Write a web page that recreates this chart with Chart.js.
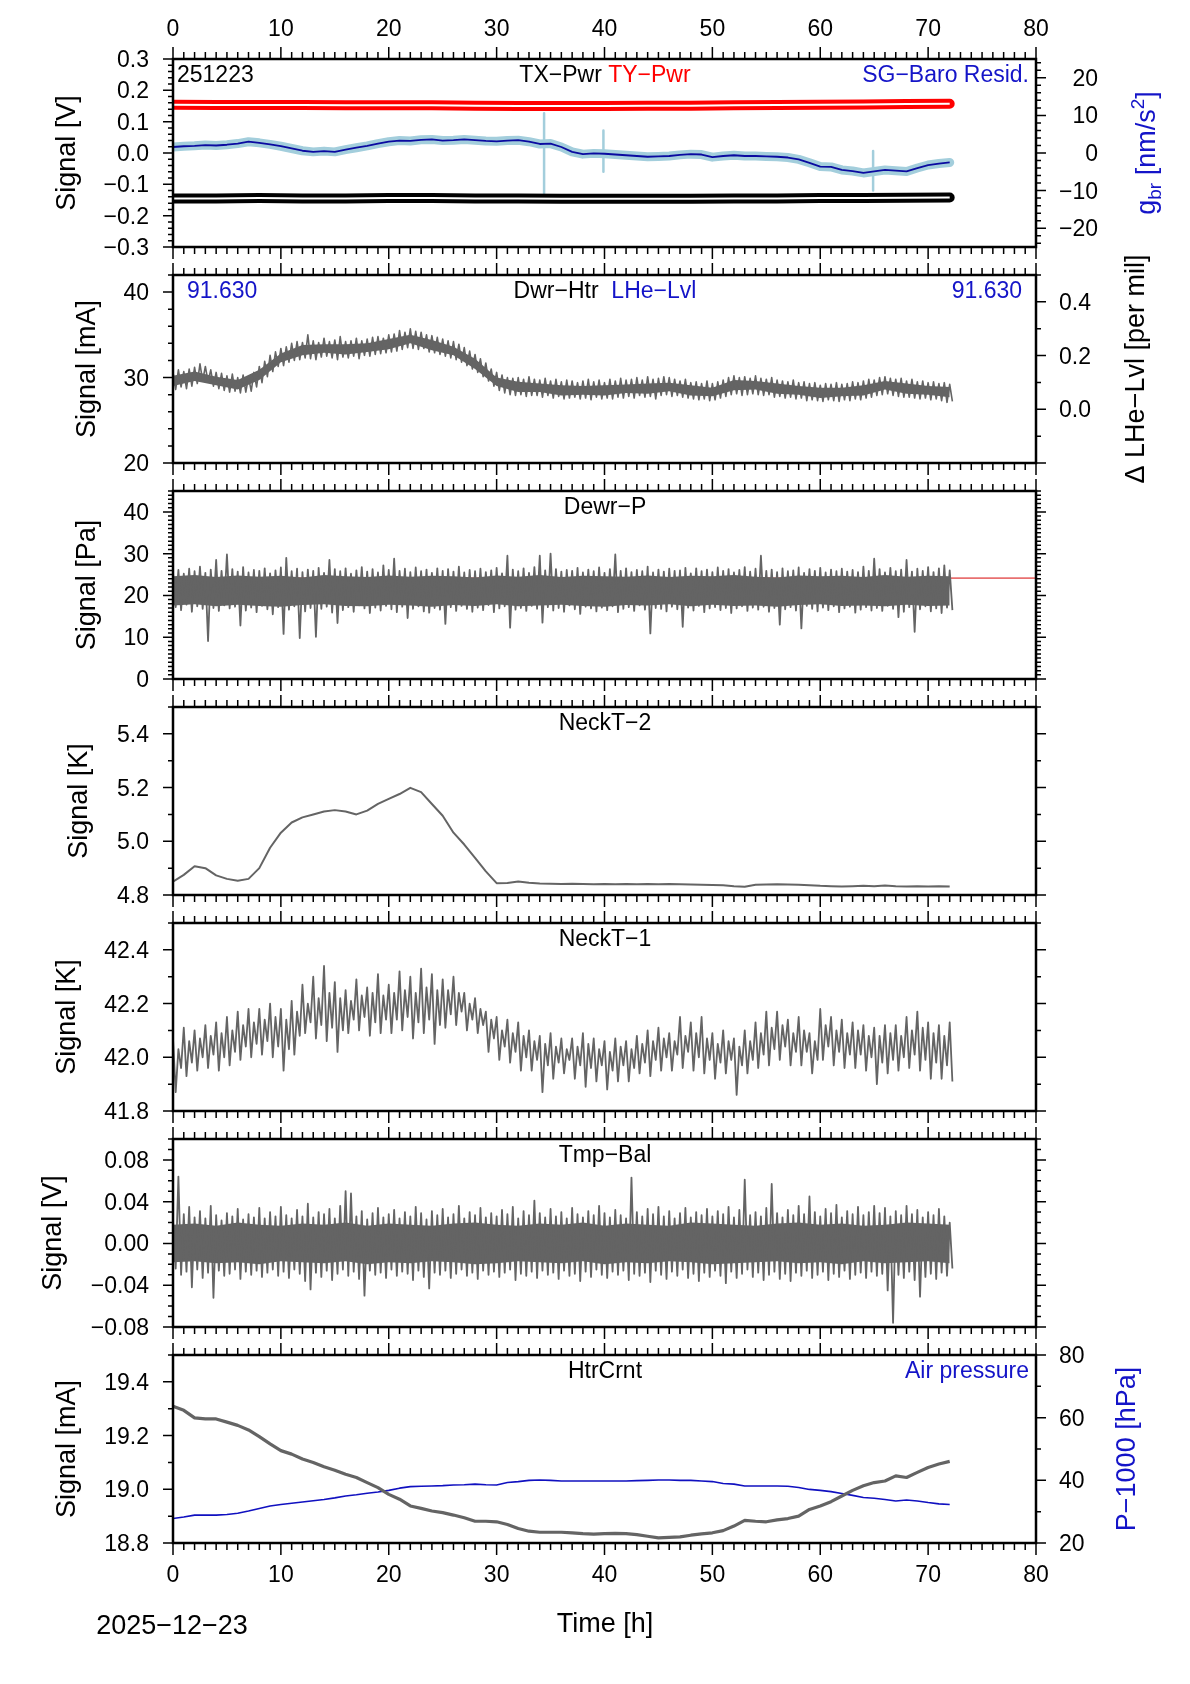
<!DOCTYPE html>
<html>
<head>
<meta charset="utf-8">
<script src="https://cdn.jsdelivr.net/npm/chart.js@4.4.1/dist/chart.umd.min.js"></script>
<style>
  html, body { margin: 0; padding: 0; background: #fff; }
  #wrap { position: relative; width: 1190px; height: 1684px; overflow: hidden; background: #fff; }
  #wrap canvas { position: absolute; left: 0; }
</style>
</head>
<body>
<div id="wrap"></div>
<script>
// ==========================================
// SG station daily housekeeping plot (GMT style) rebuilt with Chart.js
// ==========================================

// ---- time axis ----
const X_MIN = 0, X_MAX = 80;
const HALF_STEP = 0.5;     // step of the hi/lo noise arrays [h]
const HOUR_STEP = 1;
const TWO_STEP = 2;        // step of the dense-core arrays [h]
const FOUR_STEP = 4;

// ---- panel 1: TX/TY power [V], SG-Baro residual [nm/s^2] ----
const txPwr = [-0.145, -0.145, -0.144, -0.145, -0.145, -0.144, -0.144, -0.145, -0.145, -0.146,
               -0.146, -0.146, -0.146, -0.145, -0.145, -0.144, -0.144, -0.143, -0.142];
const tyPwr = [0.154, 0.153, 0.153, 0.153, 0.152, 0.152, 0.152, 0.151, 0.150, 0.150,
               0.150, 0.151, 0.151, 0.152, 0.153, 0.154, 0.155, 0.156, 0.157];
const sgResid = [1.6, 1.8, 1.9, 2.1, 2.0, 2.2, 2.5, 3.0, 2.7, 2.3,
                 1.8, 1.2, 0.6, 0.3, 0.5, 0.3, 0.9, 1.4, 1.9, 2.5,
                 3.0, 3.3, 3.2, 3.5, 3.6, 3.3, 3.4, 3.6, 3.4, 3.2,
                 3.1, 3.3, 3.4, 3.0, 2.4, 2.5, 1.6, 0.3, -0.3, -0.1,
                 -0.2, -0.4, -0.6, -0.8, -1.0, -0.9, -0.8, -0.5, -0.3, -0.4,
                 -1.1, -0.8, -0.6, -0.8, -0.8, -0.9, -1.0, -1.2, -1.7, -2.6,
                 -3.6, -3.7, -4.5, -4.8, -5.3, -4.9, -4.5, -4.7, -4.9, -4.0,
                 -3.2, -2.8, -2.5];
const sgSpikeHours = [34.4, 39.9, 64.9];
const sgSpikeTop = [10.6, 6.0, 0.5];
const sgSpikeBottom = [-10.8, -5.0, -10.0];

// ---- panel 2: Dewar heater [mA] ----
const dwrHtrHi = [30.6, 30.9, 30.7, 31.0, 31.2, 31.6, 31.3, 30.9, 30.6, 30.5,
                  30.2, 30.4, 30.0, 30.3, 30.1, 30.6, 31.3, 31.9, 32.6, 33.0,
                  33.4, 33.6, 34.0, 34.2, 34.1, 35.0, 34.3, 34.1, 34.6, 34.2,
                  34.4, 34.8, 34.2, 34.3, 34.6, 34.3, 34.5, 34.7, 34.8, 34.6,
                  35.0, 35.1, 35.5, 35.3, 35.7, 35.4, 35.3, 35.0, 34.9, 34.7,
                  34.5, 34.3, 34.2, 33.9, 33.5, 33.1, 32.7, 32.2, 31.7, 31.0,
                  30.6, 30.3, 30.0, 29.9, 30.0, 29.8, 30.1, 29.8, 29.7, 29.9,
                  29.6, 29.8, 29.5, 29.7, 29.6, 29.4, 29.6, 29.8, 29.5, 29.7,
                  29.4, 29.8, 29.6, 29.9, 29.7, 29.8, 30.0, 29.7, 30.1, 29.8,
                  29.9, 30.1, 30.0, 29.8, 29.6, 29.8, 29.4, 29.5, 29.3, 29.6,
                  29.3, 29.5, 29.7, 30.0, 30.2, 30.0, 30.1, 29.9, 30.2, 29.9,
                  29.8, 30.0, 29.7, 29.6, 29.5, 29.7, 29.4, 29.5, 29.3, 29.4,
                  29.1, 29.3, 29.2, 29.4, 29.2, 29.3, 29.5, 29.4, 29.6, 29.8,
                  29.7, 30.0, 30.1, 29.9, 29.8, 29.9, 29.6, 29.8, 29.5, 29.6,
                  29.4, 29.5, 29.3, 29.4, 29.2];
const dwrHtrLo = [28.6, 28.9, 28.7, 29.0, 29.3, 29.6, 29.5, 29.0, 28.7, 28.5,
                  28.3, 28.4, 28.2, 28.3, 28.4, 28.9, 29.4, 30.1, 30.7, 31.3,
                  31.4, 31.8, 32.0, 32.1, 32.3, 32.2, 32.1, 32.4, 32.5, 32.3,
                  32.1, 32.4, 32.3, 32.5, 32.2, 32.6, 32.5, 32.7, 32.8, 32.9,
                  33.0, 33.1, 33.3, 33.5, 33.4, 33.3, 33.4, 33.0, 32.9, 32.7,
                  32.5, 32.3, 32.1, 31.8, 31.4, 31.0, 30.6, 30.1, 29.6, 29.0,
                  28.5, 28.2, 28.0, 27.9, 28.0, 27.8, 27.9, 27.9, 27.7, 27.9,
                  27.6, 27.8, 27.5, 27.6, 27.7, 27.5, 27.6, 27.4, 27.7, 27.5,
                  27.6, 27.5, 27.7, 27.6, 27.8, 27.6, 27.9, 27.7, 27.8, 27.5,
                  27.9, 28.0, 27.8, 27.9, 27.7, 27.6, 27.5, 27.4, 27.5, 27.3,
                  27.4, 27.6, 27.8, 28.0, 28.1, 27.9, 28.0, 28.1, 28.0, 27.9,
                  28.0, 27.7, 27.8, 27.6, 27.7, 27.5, 27.6, 27.3, 27.4, 27.3,
                  27.2, 27.4, 27.3, 27.2, 27.4, 27.3, 27.5, 27.4, 27.6, 27.7,
                  27.9, 28.0, 28.1, 27.9, 27.8, 27.7, 27.7, 27.6, 27.5, 27.6,
                  27.4, 27.5, 27.3, 27.1, 27.2];
// dense inner part of the record (every 2 h)
const dwrHtrCoreHi = [30.2, 30.7, 30.1, 29.7, 30.9, 32.8, 33.8, 33.9, 33.9, 34.0,
                      34.5, 35.0, 34.4, 33.6, 32.2, 30.0, 29.5, 29.3, 29.1, 29.0,
                      29.1, 29.2, 29.3, 29.4, 29.1, 28.8, 29.7, 29.6, 29.3, 29.0,
                      28.8, 28.8, 29.1, 29.6, 29.3, 29.0, 28.9];
const dwrHtrCoreLo = [29.0, 29.6, 29.1, 28.6, 29.7, 31.8, 32.6, 32.9, 32.7, 33.0,
                      33.3, 34.0, 33.2, 32.6, 31.0, 29.0, 28.3, 28.3, 27.9, 28.0,
                      27.9, 28.2, 28.1, 28.4, 27.9, 27.8, 28.5, 28.6, 28.1, 28.0,
                      27.6, 27.8, 27.9, 28.6, 28.1, 28.0, 27.7];

// ---- panel 3: Dewar pressure [Pa] ----
const dewrPHi = [25.5, 26.1, 25.2, 26.4, 25.8, 26.9, 25.4, 26.2, 28.5, 25.9,
                 29.8, 26.3, 25.7, 26.8, 25.5, 26.1, 25.9, 26.5, 25.3, 26.0,
                 26.7, 29.0, 25.8, 26.4, 25.6, 26.2, 25.9, 26.6, 25.4, 28.5,
                 26.3, 25.8, 26.5, 25.2, 26.0, 26.8, 25.7, 26.3, 25.5, 27.2,
                 26.1, 28.8, 25.9, 26.4, 25.6, 26.7, 25.8, 26.2, 25.4, 26.5,
                 25.9, 26.3, 25.7, 26.9, 25.5, 26.1, 25.8, 26.4, 25.6, 26.0,
                 26.6, 25.3, 29.5, 26.2, 25.8, 26.5, 25.4, 26.8, 29.5, 26.0,
                 30.0, 26.3, 25.7, 26.1, 25.9, 26.6, 25.5, 26.2, 25.8, 26.7,
                 25.4, 26.3, 29.8, 25.9, 26.5, 25.6, 26.1, 25.8, 26.9, 25.5,
                 26.2, 25.7, 26.4, 25.9, 26.0, 26.6, 25.3, 26.5, 25.8, 26.2,
                 25.6, 26.7, 25.9, 26.3, 25.5, 26.1, 26.8, 25.7, 26.4, 29.5,
                 25.9, 26.2, 25.6, 26.5, 25.8, 26.0, 26.7, 25.4, 26.3, 25.9,
                 26.6, 25.5, 26.2, 25.8, 26.4, 25.7, 26.1, 25.6, 26.9, 25.9,
                 28.8, 26.3, 25.5, 26.6, 25.8, 26.2, 28.5, 25.7, 26.4, 25.9,
                 26.8, 25.6, 26.5, 27.2, 26.0];
const dewrPLo = [17.2, 16.5, 17.8, 16.1, 17.4, 16.8, 9.1, 17.0, 16.3, 17.6,
                 16.9, 17.3, 12.8, 16.4, 17.1, 16.0, 17.5, 16.7, 15.5, 17.2,
                 10.8, 16.6, 17.4, 9.8, 16.2, 17.0, 10.1, 16.8, 17.3, 15.9,
                 13.4, 16.5, 17.2, 16.1, 17.6, 16.9, 15.8, 17.1, 16.4, 17.5,
                 16.7, 16.0, 17.3, 14.6, 16.8, 17.4, 16.2, 15.9, 17.0, 16.6,
                 13.2, 17.2, 16.3, 17.5, 16.8, 16.1, 17.1, 16.5, 17.7, 16.0,
                 16.9, 17.4, 12.3, 16.6, 17.0, 16.3, 17.5, 16.8, 13.5, 17.2,
                 16.4, 17.0, 16.1, 17.6, 16.7, 15.6, 17.3, 16.9, 16.2, 17.1,
                 16.5, 17.4, 16.0, 16.8, 17.2, 16.3, 17.6, 16.6, 10.9, 17.0,
                 16.8, 16.2, 17.3, 16.7, 12.5, 17.1, 16.4, 17.5, 16.0, 16.9,
                 17.2, 16.5, 17.0, 15.8, 16.9, 17.4, 16.3, 17.1, 16.6, 17.3,
                 16.1, 17.0, 13.0, 16.7, 17.2, 16.4, 12.1, 17.5, 16.8, 16.2,
                 17.1, 16.5, 17.4, 16.0, 16.9, 17.3, 15.9, 16.6, 17.2, 16.4,
                 17.0, 16.3, 17.5, 16.8, 14.8, 16.1, 17.2, 11.3, 16.7, 17.4,
                 16.2, 16.9, 15.8, 17.1, 16.5];
// dense inner part of the record (every 2 h)
const dewrPCoreHi = [24.6, 24.9, 24.4, 24.8, 24.5, 24.7, 24.3, 24.9, 24.6, 24.4,
                     24.8, 24.5, 24.7, 24.6, 24.3, 24.8, 24.5, 24.9, 24.4, 24.7,
                     24.6, 24.5, 24.8, 24.4, 24.7, 24.6, 24.9, 24.5, 24.3, 24.8,
                     24.6, 24.7, 24.4, 24.9, 24.5, 24.7, 24.6];
const dewrPCoreLo = [17.6, 17.9, 17.4, 17.8, 17.5, 17.3, 17.7, 17.9, 17.5, 17.4,
                     17.8, 17.6, 17.3, 17.7, 17.5, 17.9, 17.4, 17.6, 17.8, 17.5,
                     17.3, 17.7, 17.6, 17.9, 17.4, 17.8, 17.5, 17.6, 17.3, 17.7,
                     17.9, 17.5, 17.6, 17.4, 17.8, 17.5, 17.6];
const dewrPLimit = 24.15;

// ---- panel 4: neck temperature 2 [K] ----
const neckT2 = [4.850, 4.875, 4.907, 4.900, 4.873, 4.860, 4.853, 4.860, 4.900, 4.976,
                5.032, 5.070, 5.089, 5.100, 5.111, 5.116, 5.111, 5.100, 5.114, 5.139,
                5.158, 5.176, 5.199, 5.183, 5.139, 5.095, 5.032, 4.988, 4.938, 4.888,
                4.844, 4.845, 4.850, 4.846, 4.843, 4.842, 4.841, 4.842, 4.841, 4.840,
                4.841, 4.840, 4.841, 4.840, 4.841, 4.840, 4.841, 4.840, 4.839, 4.838,
                4.837, 4.836, 4.833, 4.831, 4.838, 4.839, 4.840, 4.839, 4.838, 4.836,
                4.834, 4.833, 4.832, 4.833, 4.834, 4.833, 4.835, 4.833, 4.832, 4.833,
                4.832, 4.833, 4.832];

// ---- panel 5: neck temperature 1 [K] ----
const neckT1Hi = [42.07, 42.03, 42.11, 42.06, 42.10, 42.07, 42.12, 42.08, 42.13, 42.09,
                  42.15, 42.10, 42.17, 42.12, 42.18, 42.13, 42.18, 42.14, 42.20, 42.15,
                  42.18, 42.14, 42.21, 42.17, 42.27, 42.20, 42.30, 42.22, 42.34, 42.24,
                  42.28, 42.22, 42.25, 42.21, 42.29, 42.23, 42.26, 42.24, 42.31, 42.23,
                  42.27, 42.24, 42.32, 42.25, 42.30, 42.24, 42.33, 42.26, 42.31, 42.25,
                  42.29, 42.25, 42.30, 42.24, 42.24, 42.20, 42.22, 42.18, 42.17, 42.14,
                  42.15, 42.10, 42.14, 42.09, 42.13, 42.08, 42.10, 42.06, 42.08, 42.05,
                  42.09, 42.04, 42.07, 42.03, 42.07, 42.04, 42.09, 42.05, 42.07, 42.03,
                  42.06, 42.02, 42.07, 42.04, 42.06, 42.03, 42.08, 42.05, 42.10, 42.06,
                  42.11, 42.07, 42.09, 42.06, 42.15, 42.08, 42.13, 42.09, 42.15, 42.07,
                  42.09, 42.05, 42.10, 42.06, 42.07, 42.04, 42.10, 42.06, 42.13, 42.09,
                  42.17, 42.11, 42.17, 42.12, 42.14, 42.09, 42.15, 42.10, 42.09, 42.06,
                  42.18, 42.12, 42.15, 42.10, 42.14, 42.09, 42.13, 42.10, 42.12, 42.08,
                  42.11, 42.08, 42.12, 42.09, 42.12, 42.08, 42.15, 42.10, 42.17, 42.11,
                  42.13, 42.09, 42.12, 42.08, 42.13];
const neckT1Lo = [41.87, 41.96, 41.93, 41.98, 41.95, 42.00, 41.96, 42.01, 41.95, 42.00,
                  41.97, 42.02, 41.99, 42.04, 42.00, 42.05, 42.01, 42.06, 42.00, 42.04,
                  41.95, 42.03, 42.01, 42.08, 42.09, 42.13, 42.07, 42.12, 42.06, 42.11,
                  42.02, 42.10, 42.09, 42.14, 42.10, 42.15, 42.08, 42.13, 42.09, 42.14,
                  42.09, 42.14, 42.10, 42.15, 42.07, 42.13, 42.09, 42.14, 42.05, 42.12,
                  42.11, 42.16, 42.12, 42.17, 42.10, 42.14, 42.09, 42.12, 42.02, 42.07,
                  41.99, 42.04, 41.98, 42.02, 41.95, 42.00, 41.95, 41.99, 41.87, 41.97,
                  41.92, 41.98, 41.94, 41.99, 41.92, 41.97, 41.89, 41.96, 41.91, 41.97,
                  41.88, 41.95, 41.91, 41.97, 41.91, 41.96, 41.94, 41.98, 41.93, 41.99,
                  41.95, 42.00, 41.95, 42.01, 41.96, 42.02, 41.95, 42.00, 41.94, 41.99,
                  41.92, 41.98, 41.94, 41.99, 41.86, 41.97, 41.94, 41.99, 41.96, 42.01,
                  41.97, 42.03, 41.99, 42.04, 41.97, 42.02, 41.97, 42.02, 41.94, 41.99,
                  41.99, 42.04, 41.97, 42.02, 41.96, 42.01, 41.96, 42.01, 41.95, 42.00,
                  41.90, 41.98, 41.94, 41.99, 41.95, 42.00, 41.96, 42.01, 41.95, 41.99,
                  41.92, 41.98, 41.92, 41.97, 41.91];

// ---- panel 6: temperature balance [V] ----
const tmpBalHi = [0.022, 0.064, 0.028, 0.035, 0.025, 0.031, 0.024, 0.036, 0.027, 0.022,
                  0.029, 0.026, 0.033, 0.023, 0.028, 0.025, 0.034, 0.024, 0.030, 0.026,
                  0.035, 0.027, 0.024, 0.032, 0.026, 0.038, 0.025, 0.030, 0.028, 0.033,
                  0.024, 0.036, 0.050, 0.048, 0.026, 0.031, 0.023, 0.029, 0.034, 0.025,
                  0.028, 0.032, 0.024, 0.030, 0.026, 0.035, 0.029, 0.023, 0.031, 0.027,
                  0.033, 0.025, 0.028, 0.036, 0.024, 0.030, 0.027, 0.034, 0.025, 0.029,
                  0.026, 0.032, 0.028, 0.035, 0.024, 0.031, 0.027, 0.041, 0.029, 0.025,
                  0.033, 0.026, 0.030, 0.024, 0.034, 0.028, 0.025, 0.031, 0.027, 0.036,
                  0.029, 0.025, 0.032, 0.027, 0.024, 0.063, 0.030, 0.026, 0.033, 0.028,
                  0.035, 0.026, 0.031, 0.024, 0.029, 0.034, 0.025, 0.030, 0.027, 0.033,
                  0.026, 0.031, 0.028, 0.035, 0.025, 0.032, 0.061, 0.027, 0.030, 0.026,
                  0.034, 0.057, 0.029, 0.025, 0.032, 0.027, 0.036, 0.028, 0.045, 0.030,
                  0.026, 0.033, 0.029, 0.037, 0.025, 0.031, 0.028, 0.035, 0.027, 0.030,
                  0.036, 0.029, 0.034, 0.026, 0.031, 0.027, 0.036, 0.028, 0.032, 0.025,
                  0.030, 0.027, 0.033, 0.026, 0.020];
const tmpBalLo = [-0.024, -0.030, -0.027, -0.042, -0.025, -0.033, -0.028, -0.052, -0.026, -0.031,
                  -0.029, -0.025, -0.034, -0.027, -0.030, -0.026, -0.032, -0.028, -0.025, -0.031,
                  -0.027, -0.033, -0.025, -0.029, -0.036, -0.044, -0.028, -0.032, -0.026, -0.035,
                  -0.029, -0.025, -0.031, -0.027, -0.034, -0.050, -0.026, -0.030, -0.028, -0.033,
                  -0.025, -0.031, -0.027, -0.029, -0.035, -0.026, -0.032, -0.043, -0.028, -0.030,
                  -0.026, -0.033, -0.029, -0.025, -0.031, -0.028, -0.034, -0.026, -0.030, -0.027,
                  -0.032, -0.028, -0.025, -0.035, -0.029, -0.031, -0.027, -0.033, -0.026, -0.030,
                  -0.028, -0.034, -0.026, -0.031, -0.029, -0.036, -0.027, -0.032, -0.025, -0.030,
                  -0.033, -0.027, -0.030, -0.026, -0.035, -0.029, -0.031, -0.028, -0.037, -0.026,
                  -0.030, -0.034, -0.027, -0.031, -0.025, -0.033, -0.029, -0.036, -0.028, -0.032,
                  -0.026, -0.031, -0.038, -0.027, -0.033, -0.029, -0.025, -0.032, -0.028, -0.035,
                  -0.030, -0.027, -0.034, -0.029, -0.036, -0.028, -0.031, -0.026, -0.033, -0.030,
                  -0.027, -0.035, -0.029, -0.032, -0.026, -0.034, -0.030, -0.028, -0.033, -0.027,
                  -0.031, -0.029, -0.045, -0.076, -0.030, -0.033, -0.027, -0.035, -0.051, -0.032,
                  -0.029, -0.034, -0.028, -0.031, -0.024];
// dense inner part of the record (every 2 h)
const tmpBalCoreHi = [0.018, 0.019, 0.017, 0.020, 0.018, 0.017, 0.019, 0.018, 0.020, 0.017,
                      0.019, 0.018, 0.017, 0.019, 0.020, 0.018, 0.017, 0.019, 0.018, 0.020,
                      0.017, 0.019, 0.018, 0.017, 0.020, 0.019, 0.018, 0.017, 0.019, 0.020,
                      0.018, 0.019, 0.017, 0.018, 0.020, 0.019, 0.018];
const tmpBalCoreLo = [-0.018, -0.017, -0.019, -0.018, -0.020, -0.017, -0.018, -0.019, -0.017, -0.020,
                      -0.018, -0.019, -0.017, -0.018, -0.020, -0.019, -0.017, -0.018, -0.019, -0.017,
                      -0.020, -0.018, -0.019, -0.017, -0.018, -0.020, -0.019, -0.018, -0.017, -0.019,
                      -0.018, -0.020, -0.017, -0.019, -0.018, -0.017, -0.019];

// ---- panel 7: heater current [mA], air pressure - 1000 [hPa] ----
const htrCrnt = [19.309, 19.294, 19.266, 19.262, 19.262, 19.250, 19.238, 19.221, 19.196, 19.169,
                 19.144, 19.131, 19.113, 19.100, 19.084, 19.071, 19.056, 19.044, 19.025, 19.006,
                 18.981, 18.963, 18.938, 18.929, 18.919, 18.913, 18.904, 18.894, 18.881, 18.881,
                 18.879, 18.869, 18.854, 18.844, 18.840, 18.840, 18.840, 18.838, 18.835, 18.833,
                 18.835, 18.836, 18.835, 18.831, 18.825, 18.819, 18.821, 18.823, 18.829, 18.834,
                 18.838, 18.846, 18.863, 18.884, 18.881, 18.879, 18.886, 18.891, 18.900, 18.925,
                 18.938, 18.954, 18.975, 18.996, 19.013, 19.025, 19.031, 19.050, 19.044, 19.063,
                 19.081, 19.094, 19.104];
const airPress = [27.8, 28.3, 28.9, 28.9, 28.9, 29.1, 29.5, 30.2, 31.0, 31.8,
                  32.3, 32.7, 33.1, 33.5, 33.9, 34.4, 35.0, 35.4, 35.9, 36.3,
                  36.8, 37.5, 38.0, 38.1, 38.2, 38.3, 38.5, 38.6, 38.8, 38.6,
                  38.5, 39.3, 39.6, 40.0, 40.1, 40.0, 39.8, 39.8, 39.8, 39.8,
                  39.8, 39.8, 39.8, 39.9, 40.0, 40.1, 40.1, 40.0, 40.0, 39.8,
                  39.6, 39.0, 38.8, 38.2, 38.2, 38.2, 38.2, 38.1, 37.7, 37.1,
                  36.8, 36.4, 35.8, 35.2, 34.5, 34.3, 33.9, 33.4, 33.7, 33.4,
                  32.9, 32.5, 32.3];

// ---- page layout ----
const PAGE_W = 1190;
const PLOT_L = 173, PLOT_R = 1036, PLOT_H = 188;
const MARGIN_T = 60, MARGIN_B = 110;
const FONT = '"Liberation Sans", Arial, Helvetica, sans-serif';
const SMALL = 23, LARGE = 27;
const GRAY = '#646464', BLUE = '#1414c8', MINUS = '\u2212';

const font = sz => sz + 'px ' + FONT;

// ---- helpers ----
function pts(values, step) {
    return values.map((v, i) => ({ x: i * step, y: v }));
}

// noisy records: read as upper/lower envelope per half hour, drawn as a zigzag
function zigzag(hi, lo, step) {
    const out = [];
    hi.forEach((v, i) => {
        out.push({ x: i * step, y: v });
        if (lo[i] !== undefined) out.push({ x: i * step + step / 2, y: lo[i] });
    });
    return out;
}

function spikes(hours, top, bottom) {
    const out = [];
    hours.forEach((h, i) => {
        out.push({ x: h, y: top[i] }, { x: h, y: bottom[i] }, { x: h, y: null });
    });
    return out;
}

function line(data, color, width, extra) {
    return Object.assign({
        data,
        borderColor: color,
        borderWidth: width,
        yAxisID: 'y',
        pointRadius: 0,
        tension: 0,
        fill: false,
        spanGaps: false,
        borderJoinStyle: 'round'
    }, extra || {});
}

// solid band between two envelope datasets (upper one fills down to the next)
function band(hi, lo, step, color) {
    return [
        line(pts(hi, step), color, 0, { fill: '+1', backgroundColor: color }),
        line(pts(lo, step), color, 0)
    ];
}

function fmt(v, dec) {
    if (Math.abs(v) < 1e-9) v = 0;
    return v.toFixed(dec).replace('-', MINUS);
}

// draws a list of coloured text pieces, with optional size / baseline shift
function drawRich(ctx, parts, x, y, align) {
    let total = 0;
    parts.forEach(p => { ctx.font = font(p.size || SMALL); total += ctx.measureText(p.t).width; });
    let cx = align === 'center' ? x - total / 2 : (align === 'right' ? x - total : x);
    ctx.textAlign = 'left';
    ctx.textBaseline = 'alphabetic';
    parts.forEach(p => {
        ctx.font = font(p.size || SMALL);
        ctx.fillStyle = p.c || '#000';
        ctx.fillText(p.t, cx, y + (p.dy || 0));
        cx += ctx.measureText(p.t).width;
    });
    ctx.fillStyle = '#000';
}

function drawVertical(ctx, parts, x, y) {
    ctx.save();
    ctx.translate(x, y);
    ctx.rotate(-Math.PI / 2);
    drawRich(ctx, parts, 0, 0, 'center');
    ctx.restore();
}

// ---- panels ----
const panels = [
    {
        top: 59,
        y: { min: -0.3, max: 0.3, major: 0.1, minor: 0.02, dec: 1 },
        y2: { min: -25, max: 25, major: 10, minor: 2, dec: 0 },
        leftTitle: { x: 66, parts: [{ t: 'Signal [V]', size: LARGE }] },
        rightTitle: { x: 1146, parts: [
            { t: 'g', size: LARGE, c: BLUE },
            { t: 'br', size: 19, c: BLUE, dy: 6 },
            { t: ' [nm/s', size: LARGE, c: BLUE },
            { t: '2', size: 19, c: BLUE, dy: -11 },
            { t: ']', size: LARGE, c: BLUE }
        ] },
        texts: [
            { align: 'left', x: 177, parts: [{ t: '251223' }] },
            { align: 'center', x: 605, parts: [{ t: 'TX' + MINUS + 'Pwr ' }, { t: 'TY' + MINUS + 'Pwr', c: '#ff0000' }] },
            { align: 'right', x: 1029, parts: [{ t: 'SG' + MINUS + 'Baro Resid.', c: BLUE }] }
        ],
        topLabels: true,
        datasets: [
            line(pts(sgResid, HOUR_STEP), '#a3cedc', 9, { yAxisID: 'y2', borderCapStyle: 'round' }),
            line(spikes(sgSpikeHours, sgSpikeTop, sgSpikeBottom), '#a3cedc', 2.5, { yAxisID: 'y2' }),
            line(pts(sgResid, HOUR_STEP), '#0a0aa0', 1.8, { yAxisID: 'y2' }),
            line(pts(tyPwr, FOUR_STEP), '#ff0000', 10, { borderCapStyle: 'round' }),
            line(pts(tyPwr, FOUR_STEP), '#ffffff', 2),
            line(pts(txPwr, FOUR_STEP), '#000000', 10, { borderCapStyle: 'round' }),
            line(pts(txPwr, FOUR_STEP), '#ffffff', 2)
        ]
    },
    {
        top: 275,
        y: { min: 20, max: 42, major: 10, minor: 2, dec: 0 },
        y2: { min: -0.2, max: 0.5, major: 0.2, minor: 0.1, dec: 1, labelFrom: 0 },
        leftTitle: { x: 86, parts: [{ t: 'Signal [mA]', size: LARGE }] },
        rightTitle: { x: 1135, parts: [{ t: '\u0394 LHe' + MINUS + 'Lvl [per mil]', size: LARGE }] },
        texts: [
            { align: 'left', x: 187, parts: [{ t: '91.630', c: BLUE }] },
            { align: 'center', x: 605, parts: [{ t: 'Dwr' + MINUS + 'Htr  ' }, { t: 'LHe' + MINUS + 'Lvl', c: BLUE }] },
            { align: 'right', x: 1022, parts: [{ t: '91.630', c: BLUE }] }
        ],
        datasets: [
            ...band(dwrHtrCoreHi, dwrHtrCoreLo, TWO_STEP, GRAY),
            line(zigzag(dwrHtrHi, dwrHtrLo, HALF_STEP), GRAY, 1.6)
        ]
    },
    {
        top: 491,
        y: { min: 0, max: 45, major: 10, minor: 1, dec: 0 },
        leftTitle: { x: 86, parts: [{ t: 'Signal [Pa]', size: LARGE }] },
        texts: [{ align: 'center', x: 605, parts: [{ t: 'Dewr' + MINUS + 'P' }] }],
        datasets: [
            line([{ x: X_MIN, y: dewrPLimit }, { x: X_MAX, y: dewrPLimit }], '#e87070', 1.6),
            ...band(dewrPCoreHi, dewrPCoreLo, TWO_STEP, GRAY),
            line(zigzag(dewrPHi, dewrPLo, HALF_STEP), GRAY, 1.8)
        ]
    },
    {
        top: 707,
        y: { min: 4.8, max: 5.5, major: 0.2, minor: 0.1, dec: 1 },
        leftTitle: { x: 78, parts: [{ t: 'Signal [K]', size: LARGE }] },
        texts: [{ align: 'center', x: 605, parts: [{ t: 'NeckT' + MINUS + '2' }] }],
        datasets: [line(pts(neckT2, HOUR_STEP), GRAY, 2)]
    },
    {
        top: 923,
        y: { min: 41.8, max: 42.5, major: 0.2, minor: 0.1, dec: 1 },
        leftTitle: { x: 66, parts: [{ t: 'Signal [K]', size: LARGE }] },
        texts: [{ align: 'center', x: 605, parts: [{ t: 'NeckT' + MINUS + '1' }] }],
        datasets: [line(zigzag(neckT1Hi, neckT1Lo, HALF_STEP), GRAY, 1.8)]
    },
    {
        top: 1139,
        y: { min: -0.08, max: 0.1, major: 0.04, minor: 0.01, dec: 2 },
        leftTitle: { x: 52, parts: [{ t: 'Signal [V]', size: LARGE }] },
        texts: [{ align: 'center', x: 605, parts: [{ t: 'Tmp' + MINUS + 'Bal' }] }],
        datasets: [
            ...band(tmpBalCoreHi, tmpBalCoreLo, TWO_STEP, GRAY),
            line(zigzag(tmpBalHi, tmpBalLo, HALF_STEP), GRAY, 1.8)
        ]
    },
    {
        top: 1355,
        y: { min: 18.8, max: 19.5, major: 0.2, minor: 0.1, dec: 1 },
        y2: { min: 20, max: 80, major: 20, minor: 10, dec: 0 },
        leftTitle: { x: 66, parts: [{ t: 'Signal [mA]', size: LARGE }] },
        rightTitle: { x: 1126, parts: [{ t: 'P' + MINUS + '1000 [hPa]', size: LARGE, c: BLUE }] },
        texts: [
            { align: 'center', x: 605, parts: [{ t: 'HtrCrnt' }] },
            { align: 'right', x: 1029, parts: [{ t: 'Air pressure', c: BLUE }] }
        ],
        bottomLabels: true,
        datasets: [
            line(pts(airPress, HOUR_STEP), '#1010c0', 1.6, { yAxisID: 'y2' }),
            line(pts(htrCrnt, HOUR_STEP), GRAY, 3.2)
        ]
    }
];

// ---- GMT-like frame, ticks and annotations ----
function tickList(ax) {
    const out = [];
    const n0 = Math.ceil(ax.min / ax.minor - 1e-6);
    const n1 = Math.floor(ax.max / ax.minor + 1e-6);
    for (let k = n0; k <= n1; k++) {
        const v = k * ax.minor;
        const r = v / ax.major;
        out.push({ v, major: Math.abs(r - Math.round(r)) < 1e-6 });
    }
    return out;
}

function makeFramePlugin(p) {
    return {
        id: 'gmtFrame',
        afterDatasetsDraw(chart) {
            const ctx = chart.ctx;
            const a = chart.chartArea;
            const oy = p.top - MARGIN_T;
            const xs = chart.scales.x, ys = chart.scales.y;

            ctx.save();
            ctx.strokeStyle = '#000';

            // titles inside the frame
            p.texts.forEach(t => drawRich(ctx, t.parts, t.x, a.top + 15 + 8, t.align));
            ctx.fillStyle = '#000';

            // x ticks top and bottom
            ctx.lineWidth = 1.5;
            ctx.beginPath();
            tickList({ min: X_MIN, max: X_MAX, major: 10, minor: 1 }).forEach(t => {
                const x = xs.getPixelForValue(t.v);
                const len = t.major ? 12 : 7;
                ctx.moveTo(x, a.top); ctx.lineTo(x, a.top - len);
                ctx.moveTo(x, a.bottom); ctx.lineTo(x, a.bottom + len);
            });
            ctx.stroke();

            // x annotations
            ctx.font = font(SMALL);
            ctx.textAlign = 'center';
            ctx.textBaseline = 'alphabetic';
            tickList({ min: X_MIN, max: X_MAX, major: 10, minor: 10 }).forEach(t => {
                const x = xs.getPixelForValue(t.v);
                if (p.topLabels) ctx.fillText(fmt(t.v, 0), x, 28 - oy + 8);
                if (p.bottomLabels) ctx.fillText(fmt(t.v, 0), x, 1574 - oy + 8);
            });

            // left axis
            ctx.beginPath();
            tickList(p.y).forEach(t => {
                const y = ys.getPixelForValue(t.v);
                const len = t.major ? 10 : 5;
                ctx.moveTo(a.left, y); ctx.lineTo(a.left - len, y);
                if (!p.y2) { ctx.moveTo(a.right, y); ctx.lineTo(a.right + len, y); }
            });
            ctx.stroke();
            ctx.font = font(SMALL);
            ctx.textAlign = 'right';
            tickList(p.y).filter(t => t.major).forEach(t => {
                ctx.fillText(fmt(t.v, p.y.dec), a.left - 24, ys.getPixelForValue(t.v) + 8);
            });

            // right axis with its own unit
            if (p.y2) {
                const rs = chart.scales.y2;
                ctx.beginPath();
                tickList(p.y2).forEach(t => {
                    const y = rs.getPixelForValue(t.v);
                    const len = t.major ? 10 : 5;
                    ctx.moveTo(a.right, y); ctx.lineTo(a.right + len, y);
                });
                ctx.stroke();
                const labels = tickList(p.y2).filter(t => t.major &&
                    (p.y2.labelFrom === undefined || t.v >= p.y2.labelFrom - 1e-9));
                ctx.font = font(SMALL);
                const maxW = Math.max(...labels.map(t => ctx.measureText(fmt(t.v, p.y2.dec)).width));
                ctx.textAlign = 'right';
                labels.forEach(t => {
                    ctx.fillText(fmt(t.v, p.y2.dec), a.right + 23 + maxW, rs.getPixelForValue(t.v) + 8);
                });
            }

            // frame
            ctx.lineWidth = 2.5;
            ctx.strokeRect(a.left, a.top, a.right - a.left, a.bottom - a.top);

            // axis titles
            const cy = (a.top + a.bottom) / 2;
            drawVertical(ctx, p.leftTitle.parts, p.leftTitle.x + 9, cy);
            if (p.rightTitle) drawVertical(ctx, p.rightTitle.parts, p.rightTitle.x + 9, cy);

            if (p.bottomLabels) {
                drawRich(ctx, [{ t: 'Time [h]', size: LARGE }], 605, 1622 - oy + 10, 'center');
                drawRich(ctx, [{ t: '2025' + MINUS + '12' + MINUS + '23', size: LARGE }], 172, 1624 - oy + 10, 'center');
            }
            ctx.restore();
        }
    };
}

// ---- build charts ----
const wrap = document.getElementById('wrap');

panels.forEach(p => {
    const canvas = document.createElement('canvas');
    const h = PLOT_H + MARGIN_T + MARGIN_B;
    canvas.width = PAGE_W;
    canvas.height = h;
    canvas.style.width = PAGE_W + 'px';
    canvas.style.height = h + 'px';
    canvas.style.top = (p.top - MARGIN_T) + 'px';
    wrap.appendChild(canvas);

    // datasets are listed bottom-to-top; Chart.js paints lower "order" on top
    const datasets = p.datasets.map((d, i) => Object.assign(d, { order: p.datasets.length - i }));

    const scales = {
        x: { type: 'linear', min: X_MIN, max: X_MAX, display: false },
        y: { type: 'linear', min: p.y.min, max: p.y.max, display: false }
    };
    if (p.y2) scales.y2 = { type: 'linear', min: p.y2.min, max: p.y2.max, display: false };

    new Chart(canvas.getContext('2d'), {
        type: 'line',
        data: { datasets },
        options: {
            responsive: false,
            animation: false,
            devicePixelRatio: 1,
            layout: { padding: { left: PLOT_L, right: PAGE_W - PLOT_R, top: MARGIN_T, bottom: MARGIN_B } },
            plugins: { legend: { display: false }, tooltip: { enabled: false } },
            scales
        },
        plugins: [makeFramePlugin(p)]
    });
});
</script>
</body>
</html>
